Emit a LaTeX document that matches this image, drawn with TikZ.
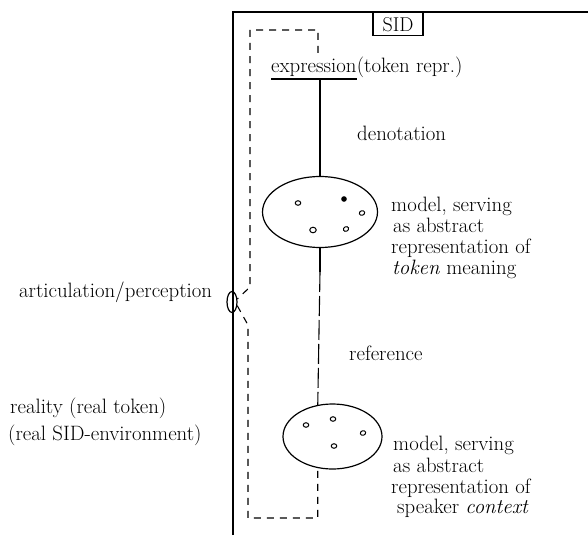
\documentclass[tikz,border=0pt]{standalone}
\usetikzlibrary{shapes.geometric}
\begin{document}
\begin{tikzpicture}[x=1pt,y=-1pt,
  lbl/.style={anchor=base west, inner sep=0pt, font=\fontsize{20.8}{24}\selectfont},
  frame/.style={line width=1.4pt},
  link/.style={line width=1.2pt},
  blob/.style={draw, ellipse, line width=1.2pt, inner sep=0pt},
  spot/.style={draw, ellipse, line width=1pt, minimum width=5.5pt, minimum height=4.5pt, inner sep=0pt},
  loop/.style={line width=1.1pt, dash pattern=on 7pt off 6pt},
  longdash/.style={line width=1.1pt, dash pattern=on 20pt off 4pt}]
\useasboundingbox[fill=white] (0,0) rectangle (588,535);

% system frame with the SID tab
\draw[frame] (233,535) -- (233,12) -- (588,12);
\node[draw, frame, anchor=north, minimum width=50pt, minimum height=23pt, inner sep=0pt,
      font=\fontsize{20}{24}\selectfont] (sid) at (398,12) {SID};

% expression and denotation
\node[lbl] (expr) at (271,72) {expression};
\node[lbl] (tokrepr) at (expr.base east) {(token repr.)};
\draw[link] ([yshift=-7pt]expr.base west) -- ([yshift=-7pt]expr.base east);
\coordinate (uj) at (320,79);

\node[blob, minimum width=115pt, minimum height=71pt] (e1) at (320,212) {};
\node[spot] (d1) at (298,203) {};
\node[spot, fill=black, minimum width=4.5pt] (d2) at (344,199) {};
\node[spot, rotate=20] (d3) at (362,213) {};
\node[spot, minimum width=6.5pt, minimum height=5.5pt] (d4) at (313,230) {};
\node[spot, rotate=25] (d5) at (346,229) {};

\draw[link] (uj) -- (e1.north);
\node[lbl] (den) at (357,140) {denotation};

\node[lbl] (u1) at (391,211) {model, serving};
\node[lbl] (u2) at (393,232) {as abstract};
\node[lbl] (u3) at (391,253) {representation of};
\node[lbl] (u4) at (392,274) {\textit{token} meaning};

% reference
\node[blob, minimum width=99pt, minimum height=65pt] (e2) at (332.5,436.5) {};
\node[spot] (c1) at (306,425) {};
\node[spot] (c2) at (333,419) {};
\node[spot, rotate=20] (c3) at (363,433) {};
\node[spot] (c4) at (334,446) {};

\coordinate (rs) at (320,272);
\draw[link] (e1.south) -- (rs);
\draw[link, longdash] (rs) -- (e2.115);
\node[lbl] (ref) at (349,360) {reference};

\node[lbl] (l1) at (393,450) {model, serving};
\node[lbl] (l2) at (393,472) {as abstract};
\node[lbl] (l3) at (391,493) {representation of};
\node[lbl] (l4) at (397,513) {speaker \textit{context}};

% articulation / perception loop
\node[draw, ellipse, line width=1.2pt, minimum width=10pt, minimum height=21pt, inner sep=0pt] (art) at (232,302) {};
\coordinate (lt) at (318,53);
\draw[loop] (lt) |- (250,30) -- (250,287) -- (art.30);
\draw[loop] (art.-35) -- (248,325) -- (248,518) -| (e2.-115);

\node[lbl] (artl) at (19,297) {articulation/perception};
\node[lbl] (r1) at (10,413) {reality (real token)};
\node[lbl] (r2) at (8,440) {(real SID-environment)};
\end{tikzpicture}
\end{document}
